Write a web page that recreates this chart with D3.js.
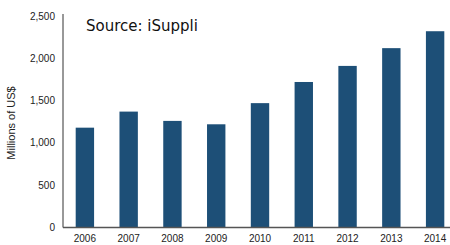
<!DOCTYPE html>
<html>
<head>
<meta charset="utf-8">
<script src="https://cdn.jsdelivr.net/npm/d3@7"></script>
<style>
  body { margin: 0; background: #fff; }
  text { font-family: "Liberation Sans", Arial, sans-serif; }
</style>
</head>
<body>
<div id="chart"></div>
<script>
var years = ["2006", "2007", "2008", "2009", "2010", "2011", "2012", "2013", "2014"];
var revenue = [1180, 1370, 1260, 1220, 1470, 1720, 1910, 2120, 2320];
var yTicks = [0, 500, 1000, 1500, 2000, 2500];

var svgWidth = 450;
var svgHeight = 245;

var margin = { top: 16, right: 0, bottom: 17.5, left: 63 };
var height = svgHeight - margin.top - margin.bottom;

var svg = d3.select("#chart")
    .append("svg")
    .attr("width", svgWidth)
    .attr("height", svgHeight);

var chartGroup = svg.append("g")
    .attr("transform", `translate(${margin.left}, ${margin.top})`);

var xScale = d3.scaleBand()
    .domain(years)
    .range([0, 394])
    .paddingInner(0.58)
    .paddingOuter(0.29);

var yScale = d3.scaleLinear()
    .domain([0, 2500])
    .range([height, 0]);

// bars
chartGroup.selectAll("rect")
    .data(revenue)
    .enter()
    .append("rect")
    .attr("x", (d, i) => xScale(years[i]))
    .attr("y", d => yScale(d))
    .attr("width", xScale.bandwidth())
    .attr("height", d => height - yScale(d))
    .attr("fill", "#1d4f77");

// y axis line + labels
chartGroup.append("line")
    .attr("x1", 0).attr("x2", 0)
    .attr("y1", yScale(2500) - 2).attr("y2", height)
    .attr("stroke", "#333").attr("stroke-width", 1);

chartGroup.append("line")
    .attr("x1", 0).attr("x2", svgWidth - margin.left)
    .attr("y1", height).attr("y2", height)
    .attr("stroke", "#555").attr("stroke-width", 1.3);

chartGroup.selectAll(".ytick")
    .data(yTicks)
    .enter()
    .append("text")
    .attr("class", "ytick")
    .attr("x", -8)
    .attr("y", d => yScale(d))
    .attr("dy", "0.35em")
    .attr("text-anchor", "end")
    .style("font-size", "10px")
    .style("fill", "#222")
    .text(d => d3.format(",")(d));

chartGroup.selectAll(".xtick")
    .data(years)
    .enter()
    .append("text")
    .attr("class", "xtick")
    .attr("x", d => xScale(d) + xScale.bandwidth() / 2)
    .attr("y", height + 14)
    .attr("text-anchor", "middle")
    .style("font-size", "10px")
    .style("fill", "#222")
    .text(d => d);

svg.append("text")
    .attr("transform", "translate(15, 123) rotate(-90)")
    .attr("text-anchor", "middle")
    .style("font-size", "11px")
    .style("fill", "#222")
    .text("Millions of US$");

svg.append("text")
    .attr("x", 86)
    .attr("y", 31)
    .style("font-family", "Verdana, 'DejaVu Sans', sans-serif")
    .style("font-size", "15px")
    .style("fill", "#111")
    .text("Source: iSuppli");
</script>
</body>
</html>
